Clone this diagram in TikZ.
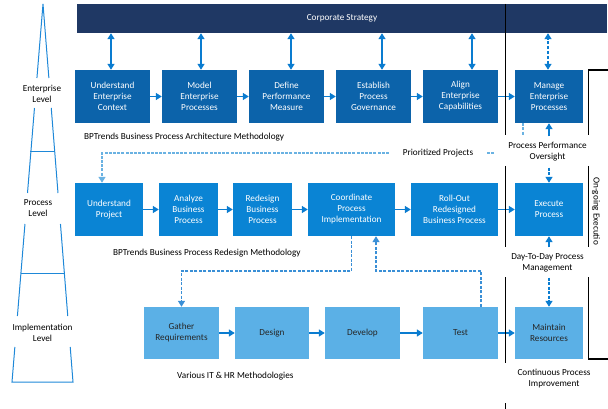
\documentclass[tikz,border=0pt]{standalone}
\usepackage{fontspec}
\setmainfont{Carlito}
\usetikzlibrary{arrows.meta,calc}
\definecolor{navy}{HTML}{1F3864}
\definecolor{entc}{HTML}{0C63AA}
\definecolor{procc}{HTML}{0A84D4}
\definecolor{implc}{HTML}{5BB0E6}
\definecolor{arrc}{HTML}{0A7CD0}
\definecolor{pric}{HTML}{6AB2E2}
\definecolor{dashc}{HTML}{3A8FD6}
\definecolor{pyrc}{HTML}{1E88D8}
\pgfdeclarelayer{bg}
\pgfsetlayers{bg,main}
\begin{document}
\begin{tikzpicture}[x=1pt,y=-1pt,
  every node/.style={font=\fontsize{9.2}{11}\selectfont},
  box/.style={minimum height=53pt, inner sep=1pt, align=center, text=white},
  ebox/.style={box, fill=entc},
  pbox/.style={box, fill=procc},
  ibox/.style={box, fill=implc, text=black!85, minimum height=52pt},
  lab/.style={align=center, inner sep=0pt, text=black},
  tip/.tip={Triangle[length=6pt,width=7pt]},
  arr/.style={draw=arrc, line width=1.3pt, -tip, arrc},
  dbl/.style={draw=arrc, line width=1.3pt, tip-tip, arrc},
  dsh/.style={draw=dashc, line width=1.3pt, dash pattern=on 3pt off 1.5pt, -tip},
  pri/.style={draw=pric, line width=1.4pt, dash pattern=on 3pt off 1.2pt, -tip},
  blk/.style={draw=black, line width=1.1pt},
  pyr/.style={draw=pyrc, line width=1pt}
]
\useasboundingbox (0,0) rectangle (608,409);

% banner
\node[fill=navy, minimum width=530pt, minimum height=29pt, inner sep=0pt, text=white] (cs) at (342,18.5) {Corporate Strategy};

% enterprise row
\node[ebox, minimum width=75pt] (E1) at (112.5,96.5) {Understand\\Enterprise\\Context};
\node[ebox, minimum width=75pt] (E2) at (199.5,96.5) {Model\\Enterprise\\Processes};
\node[ebox, minimum width=75pt] (E3) at (286.5,96.5) {Define\\Performance\\Measure};
\node[ebox, minimum width=75pt] (E4) at (373.5,96.5) {Establish\\Process\\Governance};
\node[ebox, minimum width=75pt] (E5) at (460.5,96.5) {Align\\Enterprise\\Capabilities};
\node[ebox, minimum width=68pt] (E6) at (549,96.5) {Manage\\Enterprise\\Processes};

% process row
\node[pbox, minimum width=68pt] (P1) at (109,209.5) {Understand\\Project};
\node[pbox, minimum width=59pt] (P2) at (188.5,209.5) {Analyze\\Business\\Process};
\node[pbox, minimum width=59pt] (P3) at (262.5,209.5) {Redesign\\Business\\Process};
\node[pbox, minimum width=87pt] (P4) at (351.5,209.5) {Coordinate\\Process\\Implementation};
\node[pbox, minimum width=87pt] (P5) at (454.5,209.5) {Roll-Out\\Redesigned\\Business Process};
\node[pbox, minimum width=68pt] (P6) at (549,209.5) {Execute\\Process};

% implementation row
\node[ibox, minimum width=75pt] (I1) at (181.5,333) {Gather\\Requirements};
\node[ibox, minimum width=74pt] (I2) at (272,333) {Design};
\node[ibox, minimum width=75pt] (I3) at (362.5,333) {Develop};
\node[ibox, minimum width=75pt] (I4) at (460.5,333) {Test};
\node[ibox, minimum width=68pt] (I5) at (549,333) {Maintain\\Resources};

% row labels
\node[lab, anchor=west] (L1) at (84,137) {BPTrends Business Process Architecture Methodology};
\node[lab, anchor=west] (L2) at (113,253) {BPTrends Business Process Redesign Methodology};
\node[lab, anchor=west] (L3) at (177,376) {Various IT \& HR Methodologies};

% side labels
\coordinate (prow) at (0,153);
\coordinate (jrow) at (0,271);
\begin{pgfonlayer}{bg}
\draw[pri] ([xshift=-26pt]E6.south) |- ([xshift=-7pt]P1.north |- prow) -- ([xshift=-7pt]P1.north);
\end{pgfonlayer}
\node[lab, fill=white, minimum width=98pt, minimum height=12pt] (PP) at (438,153) {Prioritized Projects};
\node[lab, fill=white, minimum width=105pt, minimum height=31pt] (PPO) at (547.5,152) {Process Performance\\Oversight};
\node[lab, minimum width=105pt, minimum height=30pt] (DTD) at (547.5,262.5) {Day-To-Day Process\\Management};
\node[lab] (CPI) at (554,378.5) {Continuous Process\\Improvement};
\node[lab, rotate=-90, anchor=west] (OGE) at (596,177) {On-going Executio};

% double arrows from corporate strategy
\draw[dbl] ([xshift=-1.5pt]E1.north) -- ([xshift=-1.5pt]E1.north |- cs.south);
\draw[dbl] ([xshift=1.5pt]E2.north) -- ([xshift=1.5pt]E2.north |- cs.south);
\draw[dbl] ([xshift=4.5pt]E3.north) -- ([xshift=4.5pt]E3.north |- cs.south);
\draw[dbl] ([xshift=8.5pt]E4.north) -- ([xshift=8.5pt]E4.north |- cs.south);
\draw[dbl] ([xshift=11.5pt]E5.north) -- ([xshift=11.5pt]E5.north |- cs.south);
\draw[dbl, dash pattern=on 3pt off 2pt] ([xshift=-1pt]E6.north) -- ([xshift=-1pt]E6.north |- cs.south);

% horizontal arrows
\draw[arr] (E1) -- (E2);
\draw[arr] (E2) -- (E3);
\draw[arr] (E3) -- (E4);
\draw[arr] (E4) -- (E5);
\draw[arr] (E5) -- (E6);
\draw[arr] (P1) -- (P2);
\draw[arr] (P2) -- (P3);
\draw[arr] (P3) -- (P4);
\draw[arr] (P4) -- (P5);
\draw[arr] (P5) -- (P6);
\draw[arr] (I1) -- (I2);
\draw[arr] (I2) -- (I3);
\draw[arr] (I3) -- (I4);
\draw[arr] (I4) -- (I5);

% vertical arrows on the right column
\draw[arr] (E6.south |- PPO.north) -- (E6.south);
\draw[dsh, draw=arrc] (P6.north |- PPO.south) -- (P6.north);
\draw[arr] (P6.south |- DTD.north) -- (P6.south);
\draw[dsh, draw=arrc] (I5.north |- DTD.south) -- (I5.north);

% dashed links between process and implementation rows
\draw[dsh] (P4.south) -- (P4.south |- jrow) -| (I1.north);
\draw[dsh] ([xshift=20.5pt]I4.north) |- ([xshift=24.5pt]P4.south |- jrow) -- ([xshift=24.5pt]P4.south);

% black separator lines
\draw[blk] (505.5,4) -- (505.5,135);
\draw[blk] (505.5,166) -- (505.5,247);
\draw[blk] (505.5,277) -- (505.5,363);
\draw[blk] (505.5,403) -- (505.5,409);
\draw[blk] (610,70) -- (588.5,70) -- (588.5,135);
\draw[blk] (588.5,166) -- (588.5,247);
\draw[blk] (588.5,277) -- (588.5,359) -- (610,359);

% pyramid
\draw[pyr] (36.93,78) -- (43,4) -- (48.87,78);
\draw[pyr] (34.47,108) -- (27.5,193);
\draw[pyr] (51.25,108) -- (58,193);
\draw[pyr] (24.96,224) -- (17.41,316);
\draw[pyr] (60.46,224) -- (67.76,316);
\draw[pyr] (14.87,347) -- (12,382) -- (73,382) -- (70.22,347);
\draw[pyr] (30.2,152) -- (54.5,152);
\draw[pyr] (21.2,273) -- (64.3,273);
\node[lab] (LE) at (42,94) {Enterprise\\Level};
\node[lab] (LP) at (38,208.5) {Process\\Level};
\node[lab] (LI) at (42.5,333) {Implementation\\Level};
\end{tikzpicture}
\end{document}
